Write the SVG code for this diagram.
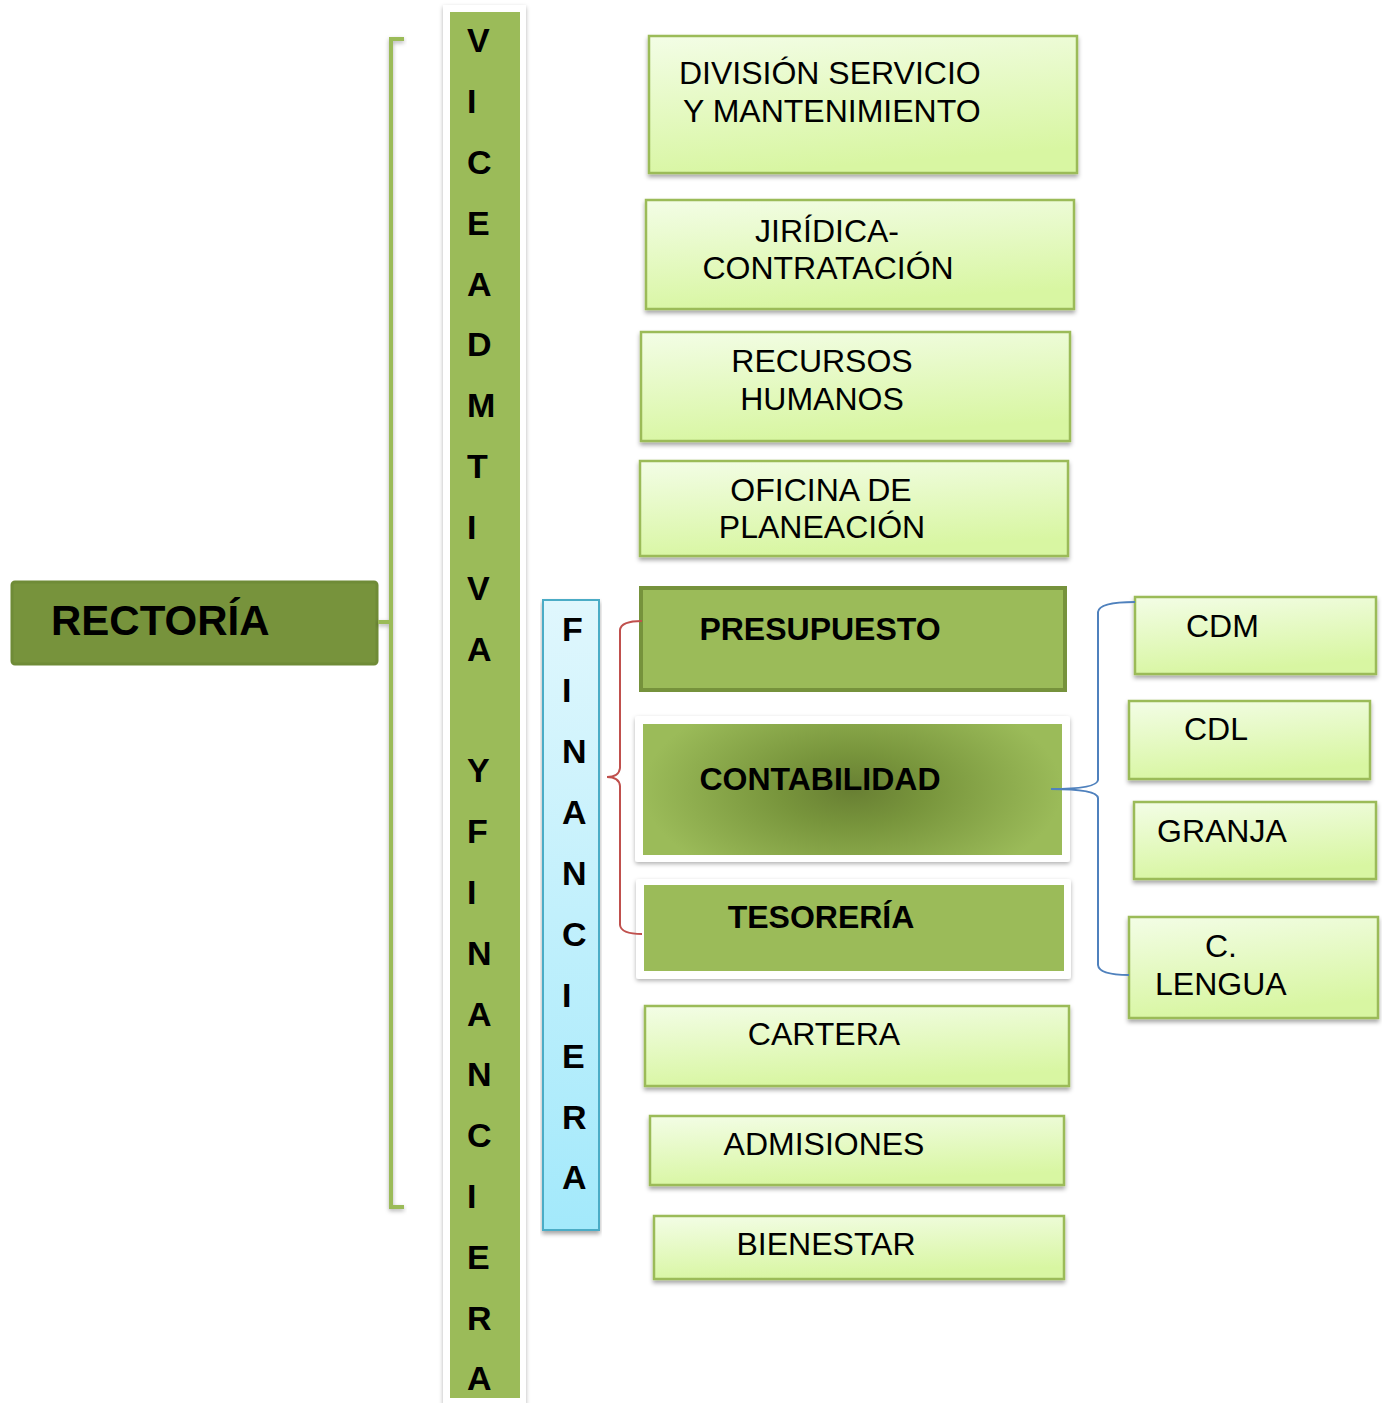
<svg xmlns="http://www.w3.org/2000/svg" width="1382" height="1403" viewBox="0 0 1382 1403">
<style>
  .lb { fill: url(#lg); stroke: #9bbb59; stroke-width: 2.5; filter: url(#sh); }
  .t { font-family: "Liberation Sans", Arial, sans-serif; font-size: 32px; fill: #000; }
  .tm { text-anchor: middle; }
  .b { font-family: "Liberation Sans", Arial, sans-serif; font-weight: bold; font-size: 32px; fill: #000; }
  .col { font-family: "Liberation Sans", Arial, sans-serif; font-weight: bold; font-size: 34px; fill: #000; }
  .panel { fill: #fff; filter: url(#sh2); }
  .dk { fill: #9bbb59; }
</style>
<defs>
  <linearGradient id="lg" x1="0" y1="0" x2="0.25" y2="1">
    <stop offset="0" stop-color="#f3fde6"/>
    <stop offset="1" stop-color="#d8f6a2"/>
  </linearGradient>
  <linearGradient id="bg" x1="0" y1="0" x2="0" y2="1">
    <stop offset="0" stop-color="#e0f7fd"/>
    <stop offset="1" stop-color="#a3e9fb"/>
  </linearGradient>
  <radialGradient id="rg" cx="0.5" cy="0.5" r="0.5" gradientTransform="translate(0.5 0.5) scale(1 1.6) translate(-0.5 -0.5)">
    <stop offset="0" stop-color="#687f33"/>
    <stop offset="0.35" stop-color="#78953c"/>
    <stop offset="1" stop-color="#9bbb59"/>
  </radialGradient>
  <filter id="sh" x="-5%" y="-10%" width="110%" height="130%">
    <feDropShadow dx="0" dy="3" stdDeviation="2" flood-color="#000" flood-opacity="0.35"/>
  </filter>
  <filter id="sh2" x="-10%" y="-5%" width="120%" height="115%">
    <feDropShadow dx="0" dy="2" stdDeviation="2" flood-color="#000" flood-opacity="0.3"/>
  </filter>
</defs>
<rect width="1382" height="1403" fill="#fff"/>

<g id="rectoria">
  <rect x="12" y="582" width="365" height="82" rx="3" fill="#77933c" stroke="#6f8b37" stroke-width="3"/>
  <text x="51" y="635" font-family="Liberation Sans, Arial, sans-serif" font-weight="bold" font-size="42" fill="#000">RECTORÍA</text>
</g>

<g id="vicerrectoria">
  <rect class="panel" x="443" y="5" width="83" height="1400"/>
  <rect class="dk" x="450" y="12" width="70" height="1386"/>
  <g class="col">
    <text x="467" y="52">V</text>
    <text x="467" y="113">I</text>
    <text x="467" y="174">C</text>
    <text x="467" y="235">E</text>
    <text x="467" y="296">A</text>
    <text x="467" y="356">D</text>
    <text x="467" y="417">M</text>
    <text x="467" y="478">T</text>
    <text x="467" y="539">I</text>
    <text x="467" y="600">V</text>
    <text x="467" y="661">A</text>
    <text x="467" y="782">Y</text>
    <text x="467" y="843">F</text>
    <text x="467" y="904">I</text>
    <text x="467" y="965">N</text>
    <text x="467" y="1026">A</text>
    <text x="467" y="1086">N</text>
    <text x="467" y="1147">C</text>
    <text x="467" y="1208">I</text>
    <text x="467" y="1269">E</text>
    <text x="467" y="1330">R</text>
    <text x="467" y="1390">A</text>
  </g>
</g>

<g id="financiera">
  <rect x="543" y="600" width="56" height="630" fill="url(#bg)" stroke="#4bacc6" stroke-width="2" filter="url(#sh)"/>
  <g class="col">
    <text x="562" y="641">F</text>
    <text x="562" y="702">I</text>
    <text x="562" y="763">N</text>
    <text x="562" y="824">A</text>
    <text x="562" y="885">N</text>
    <text x="562" y="946">C</text>
    <text x="562" y="1007">I</text>
    <text x="562" y="1068">E</text>
    <text x="562" y="1129">R</text>
    <text x="562" y="1189">A</text>
  </g>
</g>

<g id="division">
  <rect class="lb" x="649" y="36" width="428" height="137"/>
  <text class="t" x="679" y="84">DIVISIÓN SERVICIO</text>
  <text class="t" x="683" y="122">Y MANTENIMIENTO</text>
</g>
<g id="juridica">
  <rect class="lb" x="646" y="200" width="428" height="109"/>
  <text class="t tm" x="827" y="242">JIRÍDICA-</text>
  <text class="t tm" x="828" y="279">CONTRATACIÓN</text>
</g>
<g id="recursos">
  <rect class="lb" x="641" y="332" width="429" height="109"/>
  <text class="t tm" x="822" y="372">RECURSOS</text>
  <text class="t tm" x="822" y="410">HUMANOS</text>
</g>
<g id="oficina">
  <rect class="lb" x="640" y="461" width="428" height="95"/>
  <text class="t tm" x="821" y="501">OFICINA DE</text>
  <text class="t tm" x="822" y="538">PLANEACIÓN</text>
</g>
<g id="presupuesto">
  <rect x="641" y="588" width="424" height="102" fill="#9bbb59" stroke="#76923c" stroke-width="4"/>
  <text class="b tm" x="820" y="640">PRESUPUESTO</text>
</g>
<g id="contabilidad">
  <rect class="panel" x="635" y="716" width="435" height="146" rx="3"/>
  <rect x="643" y="724" width="419" height="131" fill="url(#rg)"/>
  <text class="b tm" x="820" y="790">CONTABILIDAD</text>
</g>
<g id="tesoreria">
  <rect class="panel" x="636" y="879" width="435" height="100" rx="3"/>
  <rect class="dk" x="644" y="885" width="420" height="86"/>
  <text class="b tm" x="821" y="928">TESORERÍA</text>
</g>
<g id="cartera">
  <rect class="lb" x="645" y="1006" width="424" height="80"/>
  <text class="t tm" x="824" y="1045">CARTERA</text>
</g>
<g id="admisiones">
  <rect class="lb" x="650" y="1116" width="414" height="69"/>
  <text class="t tm" x="824" y="1155">ADMISIONES</text>
</g>
<g id="bienestar">
  <rect class="lb" x="654" y="1216" width="410" height="63"/>
  <text class="t tm" x="826" y="1255">BIENESTAR</text>
</g>
<g id="cdm">
  <rect class="lb" x="1135" y="597" width="241" height="77"/>
  <text class="t" x="1186" y="637">CDM</text>
</g>
<g id="cdl">
  <rect class="lb" x="1129" y="701" width="241" height="78"/>
  <text class="t" x="1184" y="740">CDL</text>
</g>
<g id="granja">
  <rect class="lb" x="1134" y="802" width="242" height="77"/>
  <text class="t" x="1157" y="842">GRANJA</text>
</g>
<g id="clengua">
  <rect class="lb" x="1129" y="917" width="249" height="101"/>
  <text class="t" x="1205" y="957">C.</text>
  <text class="t" x="1155" y="995">LENGUA</text>
</g>

<g id="connectors" fill="none">
  <path d="M378 622 H390 M404 39 H391 V1207 H404" stroke="#9bbb59" stroke-width="4" filter="url(#sh2)"/>
  <path d="M642 621 Q621 621 620 630 V768 Q619 777 607 777 Q619 777 620 786 V925 Q621 934 642 934" stroke="#c0504d" stroke-width="2"/>
  <path d="M1051 789 Q1097 789 1098 780 V612 Q1099 602 1135 602 M1051 789 Q1097 789 1098 798 V965 Q1099 975 1129 975" stroke="#4f81bd" stroke-width="2"/>
</g>
</svg>
